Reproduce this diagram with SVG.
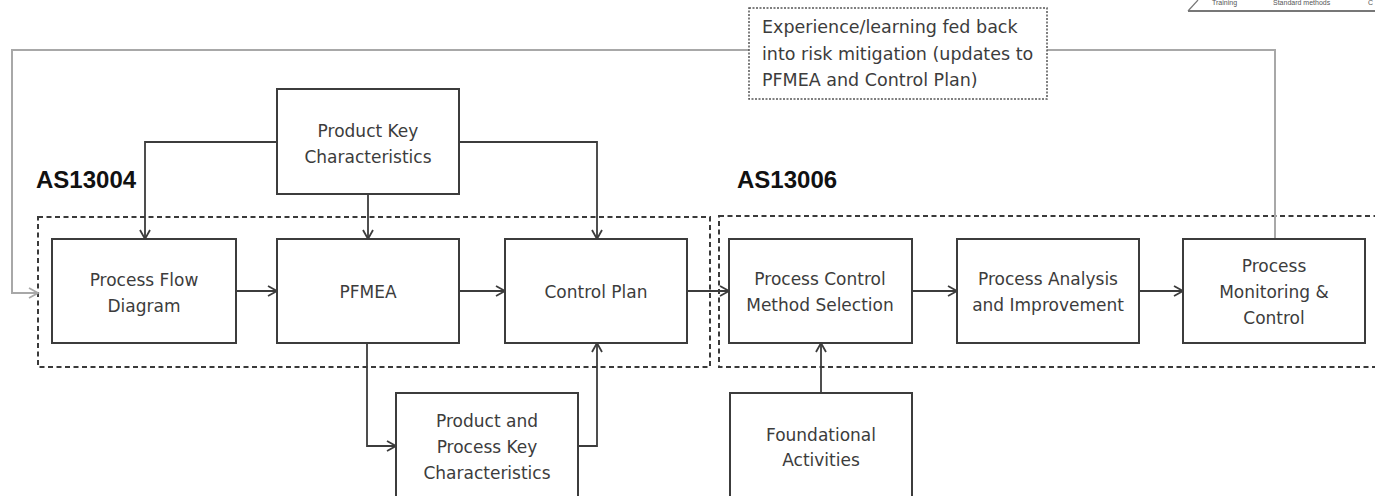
<svg xmlns="http://www.w3.org/2000/svg" width="1375" height="496" viewBox="0 0 1375 496">
<style>
.box{fill:#fff;stroke:#3c3c3c;stroke-width:2}
.grp{fill:none;stroke:#3a3a3a;stroke-width:2;stroke-dasharray:5,3.5}
.note{fill:#fff;stroke:#555;stroke-width:1.5;stroke-dasharray:2,1.5}
.t{font-family:"DejaVu Sans",sans-serif;font-size:17px;fill:#3c3c3c;text-anchor:middle}
.nt{font-family:"DejaVu Sans",sans-serif;font-size:17.5px;fill:#3c3c3c}
.lbl{font-family:"Liberation Sans",Arial,sans-serif;font-size:24px;font-weight:bold;fill:#111}
.c{fill:none;stroke:#3c3c3c;stroke-width:1.8}
.fb{fill:none;stroke:#a8a8a8;stroke-width:2}
.tiny{font-family:"Liberation Sans",Arial,sans-serif;font-size:7px;fill:#555}
</style>
<defs>
<marker id="a" markerUnits="userSpaceOnUse" markerWidth="12" markerHeight="12" refX="10" refY="6" orient="auto">
<path d="M1,1 L10,6 L1,11" fill="none" stroke="#3c3c3c" stroke-width="1.8"/>
</marker>
<marker id="ag" markerUnits="userSpaceOnUse" markerWidth="12" markerHeight="12" refX="10" refY="6" orient="auto">
<path d="M1,1 L10,6 L1,11" fill="none" stroke="#a8a8a8" stroke-width="1.8"/>
</marker>
</defs>
<rect width="1375" height="496" fill="#fff"/>
<g id="corner-fragment">
<path d="M1188,11 L1375,11" stroke="#777" stroke-width="2" fill="none"/>
<path d="M1188,11 L1198,0" stroke="#777" stroke-width="1.2" fill="none"/>
<text class="tiny" x="1212" y="5">Training</text>
<text class="tiny" x="1273" y="5">Standard methods</text>
<text class="tiny" x="1368" y="5">C</text>
</g>
<g id="groups">
<rect class="grp" x="38" y="217" width="672" height="150"/>
<rect class="grp" x="719" y="216" width="670" height="151"/>
<text class="lbl" x="36" y="188">AS13004</text>
<text class="lbl" x="737" y="188">AS13006</text>
</g>
<g id="connectors">
<path class="fb" d="M1275,239 L1275,50 L12,50 L12,293 L38,293" marker-end="url(#ag)"/>
<path class="c" d="M277,142 L145,142 L145,239" marker-end="url(#a)"/>
<path class="c" d="M368,194 L368,239" marker-end="url(#a)"/>
<path class="c" d="M459,142 L597,142 L597,239" marker-end="url(#a)"/>
<path class="c" d="M236,291 L277,291" marker-end="url(#a)"/>
<path class="c" d="M459,291 L505,291" marker-end="url(#a)"/>
<path class="c" d="M687,291 L729,291" marker-end="url(#a)"/>
<path class="c" d="M912,291 L957,291" marker-end="url(#a)"/>
<path class="c" d="M1139,291 L1183,291" marker-end="url(#a)"/>
<path class="c" d="M367,343 L367,446 L396,446" marker-end="url(#a)"/>
<path class="c" d="M578,446 L597,446 L597,343" marker-end="url(#a)"/>
<path class="c" d="M821,393 L821,343" marker-end="url(#a)"/>
</g>
<g id="note">
<rect class="note" x="749" y="8" width="298" height="91"/>
<text class="nt" x="762" y="33">Experience/learning fed back</text>
<text class="nt" x="762" y="60">into risk mitigation (updates to</text>
<text class="nt" x="762" y="86">PFMEA and Control Plan)</text>
</g>
<g id="product-key-characteristics">
<rect class="box" x="277" y="89" width="182" height="105"/>
<text class="t" x="368" y="137">Product Key</text>
<text class="t" x="368" y="163">Characteristics</text>
</g>
<g id="process-flow-diagram">
<rect class="box" x="52" y="239" width="184" height="104"/>
<text class="t" x="144" y="286">Process Flow</text>
<text class="t" x="144" y="312">Diagram</text>
</g>
<g id="pfmea">
<rect class="box" x="277" y="239" width="182" height="104"/>
<text class="t" x="368" y="298">PFMEA</text>
</g>
<g id="control-plan">
<rect class="box" x="505" y="239" width="182" height="104"/>
<text class="t" x="596" y="298">Control Plan</text>
</g>
<g id="process-control-method-selection">
<rect class="box" x="729" y="239" width="183" height="104"/>
<text class="t" x="820" y="285">Process Control</text>
<text class="t" x="820" y="311">Method Selection</text>
</g>
<g id="process-analysis-improvement">
<rect class="box" x="957" y="239" width="182" height="104"/>
<text class="t" x="1048" y="285">Process Analysis</text>
<text class="t" x="1048" y="311">and Improvement</text>
</g>
<g id="process-monitoring-control">
<rect class="box" x="1183" y="239" width="182" height="104"/>
<text class="t" x="1274" y="272">Process</text>
<text class="t" x="1274" y="298">Monitoring &amp;</text>
<text class="t" x="1274" y="324">Control</text>
</g>
<g id="product-process-key-characteristics">
<rect class="box" x="396" y="393" width="182" height="110"/>
<text class="t" x="487" y="427">Product and</text>
<text class="t" x="487" y="453">Process Key</text>
<text class="t" x="487" y="479">Characteristics</text>
</g>
<g id="foundational-activities">
<rect class="box" x="730" y="393" width="182" height="110"/>
<text class="t" x="821" y="441">Foundational</text>
<text class="t" x="821" y="466">Activities</text>
</g>
</svg>
